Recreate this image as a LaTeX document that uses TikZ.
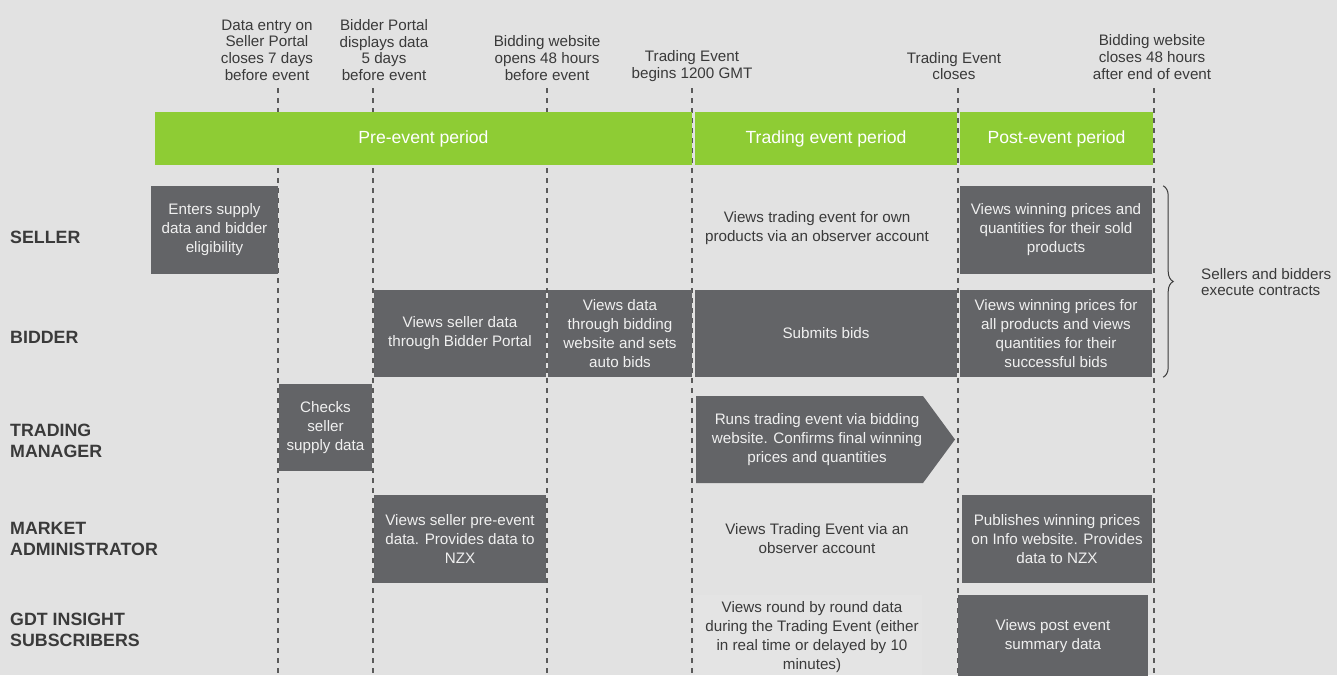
\documentclass[tikz,border=0pt]{standalone}
\usepackage{fontspec}
\setmainfont{Liberation Sans}
\usetikzlibrary{decorations.pathreplacing}
\definecolor{bg}{HTML}{E2E2E2}
\definecolor{boxgrey}{HTML}{636467}
\definecolor{barg}{HTML}{8ECC34}
\definecolor{txt}{HTML}{3A3A3A}
\definecolor{dl}{HTML}{5A5A5A}
\definecolor{faint}{HTML}{E4E4E4}
\begin{document}
\begin{tikzpicture}[x=1pt,y=-1pt,
  dline/.style={draw=dl,line width=1.1pt,dash pattern=on 5pt off 5pt},
  bar/.style={fill=barg,draw=none,text=white,font=\fontsize{17.6}{20}\selectfont,inner sep=0pt,anchor=center},
  box/.style={fill=boxgrey,draw=none,text=white!94!black,font=\fontsize{15.2}{19}\selectfont,align=center,inner sep=0pt,anchor=center},
  plain/.style={text=txt,font=\fontsize{15.2}{19}\selectfont,align=center,inner sep=0pt,anchor=center},
  toplab/.style={text=txt,font=\fontsize{15.2}{16.6}\selectfont,align=center,inner sep=0pt,anchor=center},
  rowlab/.style={text=txt,font=\fontsize{17.8}{21}\selectfont\bfseries,align=left,inner sep=0pt,anchor=west},
]
\fill[bg] (0,0) rectangle (1337,675);
\useasboundingbox (0,0) rectangle (1337,675);

% guide lines
\foreach \n/\x in {ga/278,gb/373,gc/547,gd/692,ge/958,gf/1154}{
  \coordinate (\n top) at (\x,88);
  \coordinate (\n bot) at (\x,675);
  \draw[dline] (\n top) -- (\n bot);
}

% top labels
\node[toplab] (t1) at (267,50) {Data entry on\\Seller Portal\\closes 7 days\\before event};
\node[toplab] (t2) at (384,50) {Bidder Portal\\displays data\\5 days\\before event};
\node[toplab] (t3) at (547,58) {Bidding website\\opens 48 hours\\before event};
\node[toplab] (t4) at (692,66) {Trading Event\\begins 1200 GMT};
\node[toplab] (t5) at (954,66) {Trading Event\\closes};
\node[toplab] (t6) at (1152,57) {Bidding website\\closes 48 hours\\after end of event};

% green bar
\node[bar,minimum width=537pt,minimum height=53pt] (pre) at (423.5,138.5) {Pre-event period};
\node[bar,minimum width=262pt,minimum height=53pt] (trd) at (826,138.5) {Trading event period};
\node[bar,minimum width=193pt,minimum height=53pt] (post) at (1056.5,138.5) {Post-event period};

% row labels
\node[rowlab] (rs) at (10,237) {SELLER};
\node[rowlab] (rb) at (10,337) {BIDDER};
\node[rowlab] (rt) at (10,441) {TRADING\\MANAGER};
\node[rowlab] (rm) at (10,539) {MARKET\\ADMINISTRATOR};
\node[rowlab] (rg) at (10,630) {GDT INSIGHT\\SUBSCRIBERS};

% seller row
\node[box,minimum width=127pt,minimum height=88pt] (s1) at (214.5,230) {Enters supply\\data and bidder\\eligibility};
\node[plain] (s2) at (817,228) {Views trading event for own\\products via an observer account};
\node[box,minimum width=192pt,minimum height=88pt] (s3) at (1056,230) {Views winning prices and\\quantities for their sold\\products};

% bidder row
\node[box,minimum width=172pt,minimum height=87pt] (b1) at (460,333.5) {Views seller data\\through Bidder Portal};
\node[box,minimum width=144pt,minimum height=87pt] (b2) at (620,333.5) {Views data\\through bidding\\website and sets\\auto bids};
\node[box,minimum width=262pt,minimum height=87pt] (b3) at (826,333.5) {Submits bids};
\node[box,minimum width=192pt,minimum height=87pt] (b4) at (1056,333.5) {Views winning prices for\\all products and views\\quantities for their\\successful bids};

% trading manager row
\node[box,minimum width=93pt,minimum height=87pt] (m1) at (325.5,427.5) {Checks\\seller\\supply data};
\fill[boxgrey] (696,396) -- (923,396) -- (955,439.5) -- (923,483) -- (696,483) -- cycle;
\node[box,fill=none] (m2) at (817,439.5) {Runs trading event via bidding\\website. Confirms final winning\\prices and quantities};

% market administrator row
\node[box,minimum width=172pt,minimum height=88pt] (a1) at (460,539) {Views seller pre-event\\data. Provides data to\\NZX};
\node[plain] (a2) at (817,539) {Views Trading Event via an\\observer account};
\node[box,minimum width=190pt,minimum height=88pt] (a3) at (1057,539) {Publishes winning prices\\on Info website. Provides\\data to NZX};

% GDT row
\fill[faint] (695,595) rectangle (922,675);
\node[plain] (g1) at (812,637) {Views round by round data\\during the Trading Event (either\\in real time or delayed by 10\\minutes)};
\node[box,minimum width=190pt,minimum height=82pt] (g2) at (1053,636) {Views post event\\summary data};

% brace
\draw[txt,line width=1pt,decorate,decoration={brace,amplitude=10pt}]
  ([xshift=11pt]s3.north east) -- ([xshift=11pt]b4.south east);
\node[toplab,align=left,anchor=west] (br) at (1201,282) {Sellers and bidders\\execute contracts};
\end{tikzpicture}
\end{document}
